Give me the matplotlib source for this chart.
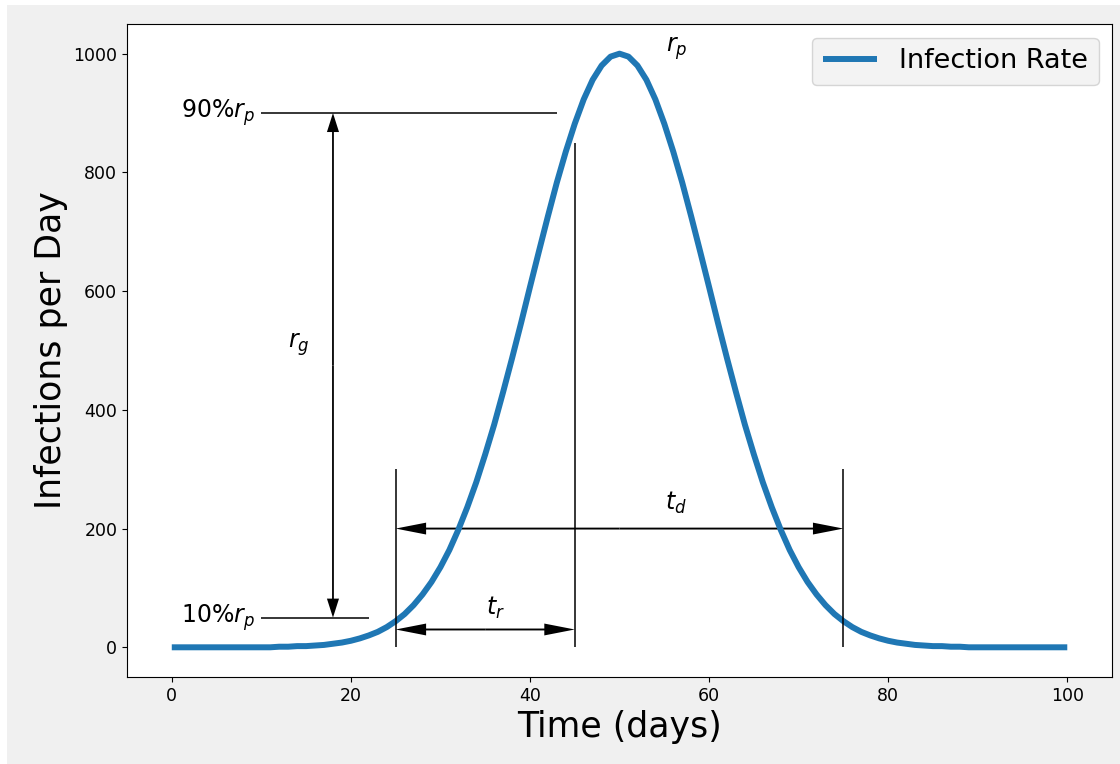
import matplotlib.pyplot as plt
from matplotlib.patches import Rectangle

# infection curve (one value per day)
days = list(range(0, 101))
rate = [0, 0, 0, 0, 0, 0, 0, 0, 0, 0, 0, 0, 1, 1, 2, 2, 3, 4, 6, 8,
        11, 15, 20, 26, 34, 44, 56, 71, 89, 110, 135, 164, 198, 236, 278, 325, 375, 430, 487, 546,
        607, 667, 726, 783, 835, 882, 923, 956, 980, 995, 1000, 995, 980, 956, 923, 882, 835, 783, 726, 667,
        607, 546, 487, 430, 375, 325, 278, 236, 198, 164, 135, 110, 89, 71, 56, 44, 34, 26, 20, 15,
        11, 8, 6, 4, 3, 2, 2, 1, 1, 0, 0, 0, 0, 0, 0, 0, 0, 0, 0, 0, 0]

r_peak = 1000
lvl_90 = 900
lvl_10 = 50
t_start, t_mid, t_end = 25, 45, 75

fig = plt.figure(figsize=(11.2, 7.64), dpi=100, facecolor='white')
fig.patches.append(Rectangle((7 / 1120, 0), 1, 1 - 5 / 764, transform=fig.transFigure,
                             facecolor='#f0f0f0', edgecolor='none', zorder=-10))
ax = fig.add_axes([0.1134, 0.1139, 0.8795, 0.8547])

ax.plot(days, rate, color='#1f77b4', lw=4.3, label='Infection Rate',
        solid_joinstyle='round', solid_capstyle='butt')

# reference lines
ax.hlines(lvl_90, 10, 43, color='k', lw=1.1)
ax.hlines(lvl_10, 10, 22, color='k', lw=1.1)
ax.vlines(t_start, 0, 300, color='k', lw=1.1)
ax.vlines(t_mid, 0, 850, color='k', lw=1.1)
ax.vlines(t_end, 0, 300, color='k', lw=1.1)


def double_arrow(x0, y0, x1, y1, **kw):
    # two arrows from the middle out, so both ends get a head
    xm, ym = (x0 + x1) / 2, (y0 + y1) / 2
    for xe, ye in [(x0, y0), (x1, y1)]:
        ax.arrow(xm, ym, xe - xm, ye - ym, length_includes_head=True,
                 fc='k', ec='none', lw=0, **kw)


double_arrow(t_start, 200, t_end, 200, width=3.2, head_width=20, head_length=3.4)
double_arrow(t_start, 30, t_mid, 30, width=3.2, head_width=20, head_length=3.4)
double_arrow(18, lvl_10, 18, lvl_90, width=0.2, head_width=1.35, head_length=32)

fs = 17
ax.text(1, lvl_90, r'90%$r_p$', fontsize=fs, ha='left', va='center')
ax.text(1, lvl_10, r'10%$r_p$', fontsize=fs, ha='left', va='center')
ax.text(14.2, 510, r'$r_g$', fontsize=fs, ha='center', va='center')
ax.text(56.4, 1008, r'$r_p$', fontsize=fs, ha='center', va='center')
ax.text(56.3, 243, r'$t_d$', fontsize=fs, ha='center', va='center')
ax.text(36.2, 67, r'$t_r$', fontsize=fs, ha='center', va='center')

ax.set_xlabel('Time (days)', fontsize=25)
ax.set_ylabel('Infections per Day', fontsize=25)
ax.tick_params(labelsize=12.5)
ax.set_xticks([0, 20, 40, 60, 80, 100])
ax.set_yticks([0, 200, 400, 600, 800, 1000])

leg = ax.legend(loc='upper right', fontsize=19.5, facecolor='#f0f0f0')

fig.savefig('out.png', dpi=100, facecolor=fig.get_facecolor())
